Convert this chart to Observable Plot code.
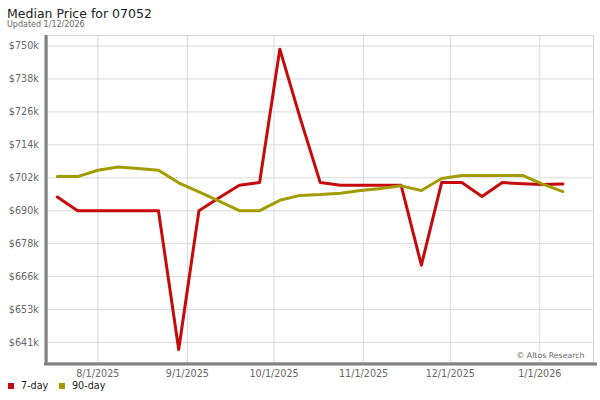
<!DOCTYPE html>
<html><head><meta charset="utf-8">
<script src="https://cdn.jsdelivr.net/npm/d3@7"></script>
<script src="https://cdn.jsdelivr.net/npm/@observablehq/plot@0.6"></script>
<style>
body{margin:0;background:#fff;font-family:"DejaVu Sans",sans-serif;}
#wrap{width:600px;height:400px;overflow:hidden;position:relative}
#title{height:20px;box-sizing:border-box;padding-top:7px;padding-left:7px;font-size:12.5px;line-height:13px;color:#222;white-space:nowrap}
#subtitle{height:9px;padding-left:7px;font-size:8px;line-height:9px;color:#666;white-space:nowrap}
#legend{height:21px;font-size:9.6px;color:#222;position:relative}
.sw{position:absolute;width:6px;height:6px;top:4px}
.lt{position:absolute;top:0px;line-height:14px}
svg{display:block}
</style></head>
<body><div id="wrap">
<div id="title">Median Price for 07052</div>
<div id="subtitle">Updated 1/12/2026</div>
<div id="chart"></div>
<div id="legend"></div>
</div>
<script>
const dates = ["2025-07-18","2025-07-25","2025-08-01","2025-08-08","2025-08-15","2025-08-22","2025-08-29",
  "2025-09-05","2025-09-12","2025-09-19","2025-09-26","2025-10-03","2025-10-10","2025-10-17","2025-10-24",
  "2025-10-31","2025-11-07","2025-11-14","2025-11-21","2025-11-28","2025-12-05","2025-12-12","2025-12-19",
  "2025-12-26","2026-01-02","2026-01-09"];
const sevenDay = [694700,689700,689700,689700,689700,689700,638800,689700,694400,699000,700000,748900,723800,
  700000,699000,699000,699000,699000,669700,700000,700000,694900,700000,699600,699300,699500];
const ninetyDay = [702200,702200,704500,705700,705200,704500,699900,696600,693200,689700,689700,693500,695300,
  695600,696100,697100,697800,698800,697100,701500,702600,702600,702600,702600,699400,696700];
const seriesNames = ["7-day","90-day"];
const seriesColors = ["#c40a0a","#a39c00"];
const yTickValues = [641400,653470,665540,677610,689680,701750,713820,725890,737960,750030];
const yTickLabels = ["$641k","$653k","$666k","$678k","$690k","$702k","$714k","$726k","$738k","$750k"];
const xTickDates = ["2025-08-01","2025-09-01","2025-10-01","2025-11-01","2025-12-01","2026-01-01"];
const xTickLabels = ["8/1/2025","9/1/2025","10/1/2025","11/1/2025","12/1/2025","1/1/2026"];
const yDomain = [634060, 753900];
const xDomain = ["2025-07-14T14:00:00Z","2026-01-19T14:00:00Z"];

const parse = s => new Date(s.length === 10 ? s + "T00:00:00Z" : s);
const data = [];
dates.forEach((d,i) => {
  data.push({date: parse(d), value: sevenDay[i], series: seriesNames[0]});
});
dates.forEach((d,i) => {
  data.push({date: parse(d), value: ninetyDay[i], series: seriesNames[1]});
});
const xTicks = xTickDates.map(parse);
const xLab = new Map(xTicks.map((d,i)=>[+d, xTickLabels[i]]));
const yLab = new Map(yTickValues.map((v,i)=>[v, yTickLabels[i]]));

const chart = Plot.plot({
  width: 600, height: 350,
  marginTop: 6, marginBottom: 17, marginLeft: 47, marginRight: 7,
  style: {fontFamily: "DejaVu Sans, sans-serif", background: "#fff"},
  x: {type: "utc", domain: xDomain.map(parse)},
  y: {domain: yDomain},
  color: {domain: seriesNames, range: seriesColors},
  marks: [
    Plot.gridY(yTickValues, {stroke: "#d9d9d9", strokeOpacity: 1}),
    Plot.gridX(xTicks, {stroke: "#d9d9d9", strokeOpacity: 1}),
    Plot.frame({stroke: "#d4d4d4"}),
    Plot.axisY(yTickValues, {tickSize: 0, tickPadding: 8.7, tickFormat: v => yLab.get(v), fontSize: 9.6, fill: "#666", label: null}),
    Plot.axisX(xTicks, {tickSize: 0, tickPadding: 8, tickFormat: d => xLab.get(+d), fontSize: 9.6, fill: "#666", label: null}),
    Plot.line(data, {x: "date", y: "value", z: "series", stroke: "series", strokeWidth: 3}),
    Plot.ruleY([yDomain[0]], {stroke: "#808080", strokeWidth: 3, dy: 1.5, insetLeft: -3, insetRight: -4}),
    Plot.ruleX([parse(xDomain[0])], {stroke: "#808080", strokeWidth: 3, dx: -1.5, insetBottom: -3}),
    Plot.text(["© Altos Research"], {frameAnchor: "bottom-right", textAnchor: "end", lineAnchor: "bottom", dx: -9, dy: -5, fontSize: 7.8, fill: "#666"})
  ]
});
document.getElementById("chart").appendChild(chart);

const legend = document.getElementById("legend");
const offs = [[8,21],[59,72]];
seriesNames.forEach((n,i) => {
  const sw = document.createElement("div");
  sw.className = "sw"; sw.style.left = offs[i][0] + "px"; sw.style.background = seriesColors[i];
  legend.appendChild(sw);
  const t = document.createElement("div");
  t.className = "lt"; t.style.left = offs[i][1] + "px"; t.textContent = n;
  legend.appendChild(t);
});
</script>
</body></html>
